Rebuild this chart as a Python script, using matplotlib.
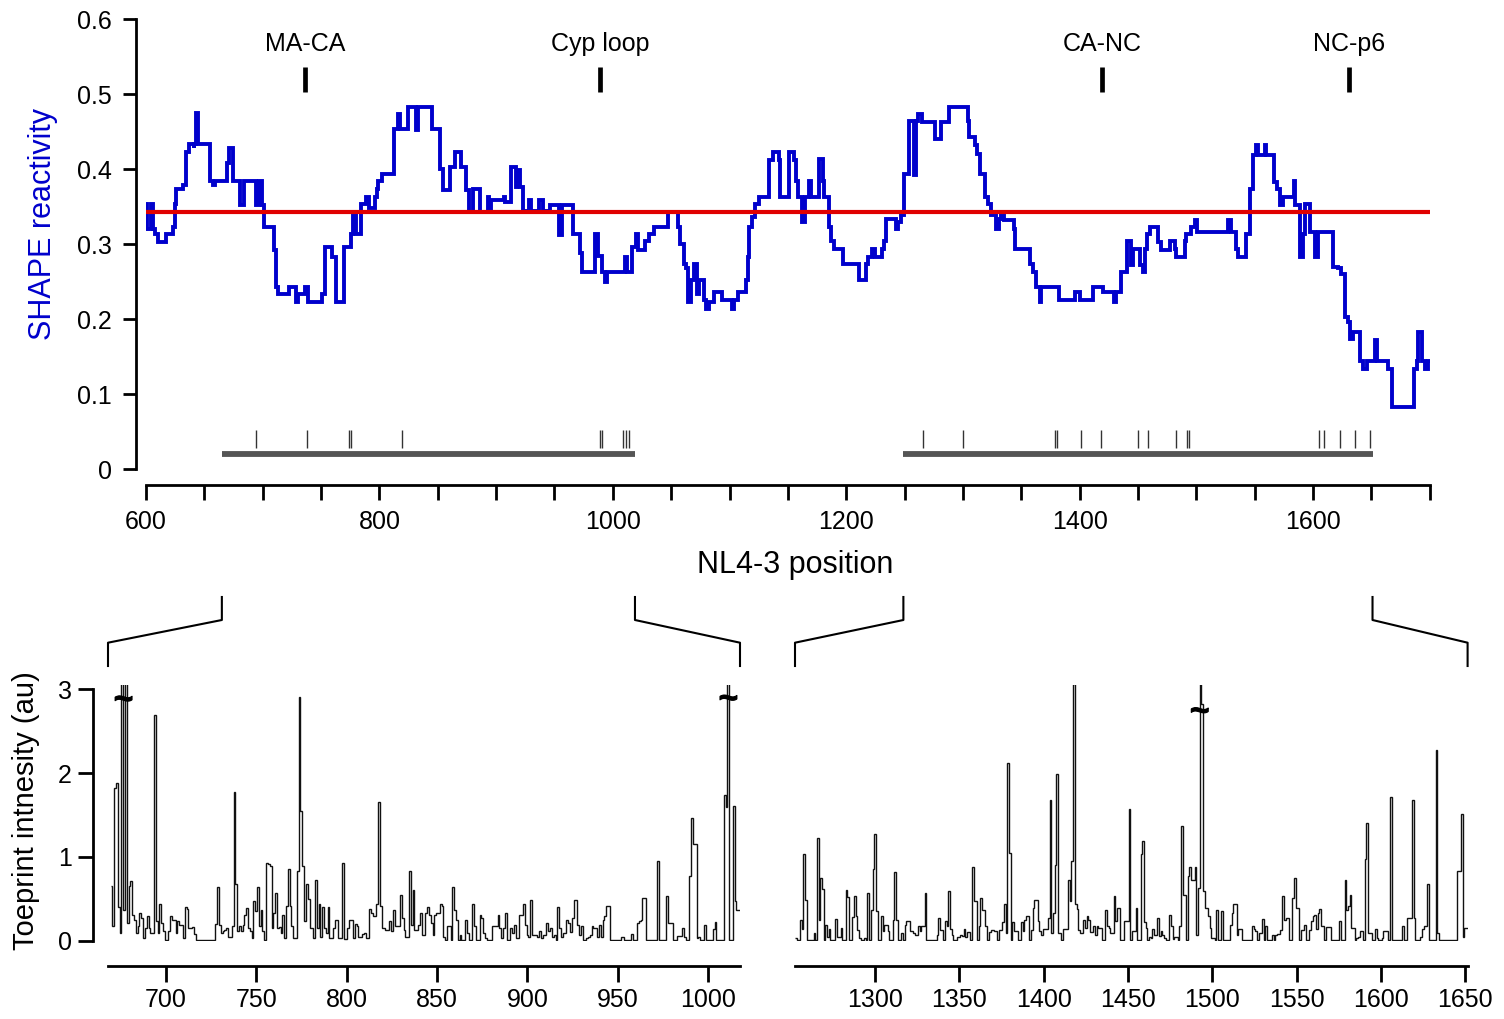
import numpy as np
import matplotlib
matplotlib.use("Agg")
import matplotlib.pyplot as plt
from matplotlib.lines import Line2D
from matplotlib.ticker import FixedLocator, FuncFormatter
import matplotlib.patheffects as pe

plt.rcParams['font.family'] = ['Liberation Sans', 'DejaVu Sans']

# ---------------- data ----------------
# windowed SHAPE reactivity (step start position, value)
shape_pos = [600, 601, 604.7, 606, 607.7, 610, 617, 623, 624.6, 626,
             632, 634.4, 636.8, 640.8, 641.4, 643, 644.5, 655, 657, 659,
             669, 671.5, 674.5, 680.6, 683.7, 694, 697, 699, 701, 710,
             711, 713, 722.6, 728.8, 730.3, 736.4, 738.6, 750.8, 753.3, 759.4,
             762.5, 769.5, 775.6, 777.8, 779.9, 783.9, 788.5, 791, 796, 797.7,
             799.2, 802.3, 812.4, 816, 817.6, 824.7, 831.4, 833, 845.2, 852.3,
             854.4, 860.5, 864.5, 869.7, 874.3, 876.8, 880.4, 886, 892.7, 894.2,
             895.8, 906.5, 908, 912.6, 917.2, 918.1, 920.3, 923.3, 927.9, 929.5,
             937.1, 940.2, 946.3, 954, 956.5, 966.2, 971.8, 973.9, 984.6, 987.7,
             990.8, 993.2, 995.3, 1010.7, 1012.2, 1016.8, 1019.9, 1021.4, 1027.5, 1030.6,
             1035.2, 1047.4, 1056, 1058, 1061, 1062.8, 1064.2, 1067, 1070, 1072.3,
             1074, 1078.4, 1080.2, 1082.4, 1086.4, 1093.7, 1102.3, 1104, 1106.9, 1114.5,
             1116.1, 1116.7, 1119.1, 1122.2, 1125.3, 1133.5, 1136.9, 1142.5, 1143.7, 1150.7,
             1155.5, 1156.8, 1159, 1162, 1164.5, 1168.2, 1169.7, 1176.4, 1180.4, 1181.3,
             1185, 1186.6, 1189.6, 1197.3, 1211.1, 1217.2, 1218.7, 1221.8, 1224.9, 1230.4,
             1232.5, 1234.1, 1242.6, 1244, 1246.9, 1249.4, 1254, 1258, 1260.1, 1261.6,
             1264.7, 1276.3, 1281.5, 1287.7, 1304.5, 1305.1, 1310, 1312.2, 1314.6, 1319,
             1321.4, 1324.4, 1328.4, 1330.6, 1332.7, 1335.2, 1343.8, 1344.4, 1357.5, 1359.7,
             1362.7, 1366.4, 1367.3, 1382.7, 1395.8, 1400.1, 1411.8, 1420.4, 1429.6, 1430.8,
             1435.7, 1440.3, 1444, 1445.5, 1451.6, 1454.7, 1456.2, 1457.8, 1460.2, 1467.1,
             1470, 1477.1, 1481.4, 1482.9, 1490, 1491.4, 1495.7, 1499.2, 1500.9, 1527.2,
             1529.5, 1534.3, 1535.8, 1542.3, 1545.8, 1548.6, 1551.5, 1552.9, 1558.6, 1560.1,
             1566.6, 1569.5, 1571.5, 1574.4, 1583.8, 1585, 1588.7, 1591.5, 1593.5, 1597.3,
             1601.5, 1604.4, 1617.3, 1621.6, 1624.4, 1627.3, 1630.1, 1631.6, 1634.4, 1640.2,
             1643, 1645.9, 1653, 1654.5, 1664.5, 1667.3, 1686.5, 1688.8, 1690.2, 1693.6,
             1695.9, 1698.8, 1699.5]
shape_val = [0.354, 0.321, 0.354, 0.321, 0.314, 0.303, 0.314, 0.323, 0.354, 0.374,
             0.379, 0.423, 0.434, 0.428, 0.434, 0.475, 0.434, 0.385, 0.379, 0.385,
             0.408, 0.429, 0.385, 0.352, 0.385, 0.352, 0.385, 0.352, 0.323, 0.292,
             0.243, 0.234, 0.243, 0.223, 0.234, 0.243, 0.223, 0.234, 0.297, 0.283,
             0.223, 0.297, 0.314, 0.343, 0.314, 0.354, 0.363, 0.348, 0.363, 0.374,
             0.385, 0.394, 0.454, 0.474, 0.454, 0.483, 0.452, 0.483, 0.454, 0.401,
             0.372, 0.403, 0.423, 0.403, 0.372, 0.343, 0.374, 0.343, 0.363, 0.345,
             0.359, 0.363, 0.357, 0.403, 0.376, 0.399, 0.376, 0.345, 0.359, 0.345,
             0.359, 0.345, 0.352, 0.312, 0.352, 0.314, 0.288, 0.263, 0.314, 0.285,
             0.263, 0.250, 0.263, 0.283, 0.263, 0.297, 0.314, 0.292, 0.305, 0.314,
             0.323, 0.343, 0.323, 0.301, 0.274, 0.268, 0.223, 0.252, 0.274, 0.234,
             0.252, 0.226, 0.214, 0.223, 0.237, 0.226, 0.214, 0.226, 0.237, 0.252,
             0.283, 0.323, 0.337, 0.354, 0.363, 0.412, 0.423, 0.412, 0.363, 0.423,
             0.412, 0.385, 0.363, 0.330, 0.363, 0.385, 0.363, 0.414, 0.385, 0.363,
             0.323, 0.305, 0.294, 0.274, 0.252, 0.274, 0.283, 0.294, 0.283, 0.294,
             0.305, 0.334, 0.321, 0.330, 0.339, 0.394, 0.465, 0.392, 0.465, 0.474,
             0.463, 0.441, 0.463, 0.483, 0.465, 0.443, 0.432, 0.421, 0.394, 0.363,
             0.354, 0.339, 0.321, 0.334, 0.343, 0.332, 0.321, 0.294, 0.274, 0.263,
             0.243, 0.223, 0.243, 0.226, 0.237, 0.226, 0.243, 0.237, 0.223, 0.237,
             0.263, 0.305, 0.272, 0.294, 0.272, 0.263, 0.294, 0.314, 0.323, 0.303,
             0.292, 0.305, 0.294, 0.283, 0.305, 0.314, 0.323, 0.332, 0.317, 0.332,
             0.317, 0.294, 0.283, 0.314, 0.374, 0.419, 0.433, 0.419, 0.433, 0.419,
             0.383, 0.374, 0.352, 0.363, 0.385, 0.352, 0.283, 0.314, 0.354, 0.317,
             0.283, 0.317, 0.270, 0.268, 0.261, 0.203, 0.197, 0.174, 0.183, 0.145,
             0.134, 0.145, 0.172, 0.145, 0.134, 0.083, 0.134, 0.145, 0.183, 0.145,
             0.134, 0.145, 0.145]
mean_reactivity = 0.343

junction_pos = [736, 989, 1419, 1631]
junction_labels = ['MA-CA', 'Cyp loop', 'CA-NC', 'NC-p6']

toeprint_sites = [694, 738, 774, 776, 819, 989, 991, 1009, 1011, 1014,
                  1266, 1300, 1379, 1381, 1401, 1418, 1450, 1459, 1483, 1492,
                  1494, 1605, 1609, 1623, 1636, 1649]
probed_ranges = [(665, 1019), (1249, 1651)]

# toeprint intensity, one value per nucleotide
left_start = 670
left_vals = [
    0.65, 0.17, 1.82, 1.88, 0.40, 0.09, 5.0, 0.37, 5.0, 0.21,    # 670
    0.65, 0.71, 0.31, 0.25, 0.09, 0.17, 0.33, 0.27, 0.03, 0.15,  # 680
    0.29, 0.15, 0.09, 0.09, 2.69, 0.23, 0.09, 0.44, 0.21, 0.11,  # 690
    0.01, 0.01, 0.11, 0.29, 0.25, 0.25, 0.09, 0.23, 0.19, 0.19,  # 700
    0.03, 0.40, 0.38, 0.15, 0.15, 0.16, 0.08, 0.01, 0.01, 0.01,  # 710
    0.01, 0.01, 0.01, 0.01, 0.01, 0.01, 0.01, 0.01, 0.20, 0.64,  # 720
    0.19, 0.09, 0.11, 0.13, 0.15, 0.05, 0.05, 0.17, 1.77, 0.68,  # 730
    0.12, 0.18, 0.11, 0.19, 0.31, 0.39, 0.15, 0.11, 0.03, 0.47,  # 740
    0.35, 0.64, 0.17, 0.37, 0.11, 0.01, 0.93, 0.92, 0.89, 0.15,  # 750
    0.33, 0.57, 0.15, 0.16, 0.09, 0.31, 0.03, 0.41, 0.86, 0.41,  # 760
    0.17, 0.03, 0.03, 0.83, 2.91, 1.55, 0.89, 0.23, 0.68, 0.50,  # 770
    0.15, 0.15, 0.03, 0.73, 0.15, 0.44, 0.04, 0.40, 0.15, 0.09,  # 780
    0.40, 0.03, 0.03, 0.15, 0.25, 0.25, 0.03, 0.03, 0.93, 0.02,  # 790
    0.02, 0.15, 0.25, 0.25, 0.03, 0.20, 0.17, 0.05, 0.05, 0.08,  # 800
    0.09, 0.03, 0.03, 0.38, 0.33, 0.30, 0.30, 0.44, 1.66, 0.41,  # 810
    0.15, 0.15, 0.13, 0.13, 0.23, 0.12, 0.37, 0.17, 0.17, 0.17,  # 820
    0.54, 0.27, 0.13, 0.05, 0.05, 0.83, 0.19, 0.60, 0.13, 0.13,  # 830
    0.19, 0.33, 0.07, 0.07, 0.33, 0.40, 0.31, 0.21, 0.07, 0.31,  # 840
    0.33, 0.33, 0.44, 0.42, 0.05, 0.01, 0.17, 0.17, 0.01, 0.64,  # 850
    0.37, 0.25, 0.01, 0.07, 0.01, 0.01, 0.25, 0.09, 0.01, 0.01,  # 860
    0.44, 0.17, 0.01, 0.01, 0.31, 0.27, 0.09, 0.03, 0.01, 0.01,  # 870
    0.01, 0.17, 0.17, 0.17, 0.31, 0.15, 0.03, 0.15, 0.33, 0.01,  # 880
    0.01, 0.15, 0.09, 0.19, 0.03, 0.03, 0.31, 0.31, 0.44, 0.19,  # 890
    0.07, 0.05, 0.49, 0.07, 0.07, 0.07, 0.05, 0.11, 0.03, 0.07,  # 900
    0.07, 0.21, 0.11, 0.15, 0.05, 0.07, 0.01, 0.40, 0.15, 0.05,  # 910
    0.09, 0.09, 0.25, 0.21, 0.10, 0.27, 0.49, 0.49, 0.19, 0.07,  # 920
    0.17, 0.01, 0.01, 0.03, 0.05, 0.07, 0.17, 0.15, 0.15, 0.05,  # 930
    0.19, 0.05, 0.25, 0.29, 0.41, 0.41, 0.01, 0.01, 0.01, 0.01,  # 940
    0.01, 0.01, 0.05, 0.05, 0.01, 0.01, 0.01, 0.01, 0.08, 0.01,  # 950
    0.01, 0.21, 0.23, 0.25, 0.51, 0.51, 0.01, 0.01, 0.01, 0.01,  # 960
    0.01, 0.01, 0.95, 0.01, 0.01, 0.01, 0.01, 0.53, 0.21, 0.21,  # 970
    0.21, 0.01, 0.01, 0.06, 0.06, 0.06, 0.15, 0.05, 0.01, 0.01,  # 980
    0.77, 1.47, 1.15, 1.15, 0.03, 0.05, 0.01, 0.01, 0.19, 0.01,  # 990
    0.01, 0.01, 0.01, 0.14, 0.22, 0.01, 0.01, 0.01, 0.01, 1.74,  # 1000
    1.60, 5.0, 0.01, 0.01, 1.61, 0.47, 0.37, 0.37]               # 1010

right_start = 1253
right_vals = [
    0.03, 0.01, 0.01, 0.25, 0.14, 1.03, 0.49,                    # 1253
    0.01, 0.01, 0.01, 0.01, 0.09, 0.01, 1.23, 0.25, 0.75, 0.62,  # 1260
    0.01, 0.19, 0.05, 0.14, 0.01, 0.01, 0.01, 0.26, 0.05, 0.05,  # 1270
    0.15, 0.01, 0.01, 0.60, 0.52, 0.01, 0.01, 0.28, 0.53, 0.29,  # 1280
    0.13, 0.03, 0.01, 0.01, 0.03, 0.01, 0.57, 0.01, 0.37, 0.86,  # 1290
    1.27, 0.36, 0.01, 0.01, 0.29, 0.11, 0.19, 0.19, 0.11, 0.01,  # 1300
    0.01, 0.25, 0.82, 0.25, 0.01, 0.01, 0.09, 0.01, 0.19, 0.24,  # 1310
    0.24, 0.11, 0.11, 0.09, 0.07, 0.07, 0.17, 0.12, 0.17, 0.17,  # 1320
    0.57, 0.01, 0.01, 0.01, 0.01, 0.01, 0.01, 0.07, 0.27, 0.13,  # 1330
    0.13, 0.01, 0.23, 0.18, 0.59, 0.14, 0.07, 0.01, 0.01, 0.05,  # 1340
    0.05, 0.07, 0.06, 0.14, 0.05, 0.10, 0.10, 0.01, 0.88, 0.47,  # 1350
    0.47, 0.01, 0.17, 0.51, 0.37, 0.37, 0.17, 0.01, 0.10, 0.13,  # 1360
    0.13, 0.11, 0.11, 0.01, 0.13, 0.13, 0.22, 0.44, 0.09, 2.12,  # 1370
    1.05, 0.01, 0.22, 0.11, 0.11, 0.01, 0.01, 0.22, 0.12, 0.25,  # 1380
    0.30, 0.30, 0.01, 0.13, 0.39, 0.48, 0.48, 0.23, 0.11, 0.07,  # 1390
    0.14, 0.14, 0.14, 0.27, 1.68, 0.09, 0.33, 0.90, 1.99, 0.09,  # 1400
    0.09, 0.01, 0.14, 0.14, 0.14, 0.73, 0.47, 0.95, 3.06, 0.44,  # 1410
    0.38, 0.13, 0.09, 0.09, 0.25, 0.15, 0.29, 0.25, 0.10, 0.10,  # 1420
    0.17, 0.07, 0.17, 0.15, 0.15, 0.01, 0.01, 0.37, 0.17, 0.15,  # 1430
    0.09, 0.09, 0.53, 0.24, 0.39, 0.39, 0.01, 0.01, 0.24, 0.24,  # 1440
    0.24, 1.57, 0.01, 0.11, 0.11, 0.39, 0.01, 0.01, 1.03, 1.19,  # 1450
    0.22, 0.15, 0.01, 0.05, 0.03, 0.14, 0.07, 0.07, 0.27, 0.06,  # 1460
    0.11, 0.07, 0.03, 0.01, 0.01, 0.31, 0.17, 0.02, 0.05, 0.05,  # 1470
    0.01, 0.17, 1.37, 0.55, 0.55, 0.01, 0.77, 0.88, 0.73, 0.73,  # 1480
    0.88, 0.07, 0.63, 5.0, 2.82, 0.59, 0.39, 0.39, 0.30, 0.15,   # 1490
    0.03, 0.03, 0.01, 0.37, 0.01, 0.01, 0.35, 0.01, 0.01, 0.01,  # 1500
    0.01, 0.19, 0.33, 0.44, 0.44, 0.07, 0.14, 0.14, 0.01, 0.01,  # 1510
    0.01, 0.01, 0.01, 0.01, 0.17, 0.14, 0.11, 0.01, 0.09, 0.09,  # 1520
    0.26, 0.01, 0.17, 0.01, 0.01, 0.01, 0.07, 0.01, 0.07, 0.08,  # 1530
    0.08, 0.13, 0.53, 0.25, 0.27, 0.27, 0.01, 0.01, 0.51, 0.75,  # 1540
    0.39, 0.39, 0.01, 0.13, 0.13, 0.19, 0.01, 0.01, 0.13, 0.23,  # 1550
    0.29, 0.31, 0.14, 0.33, 0.38, 0.17, 0.17, 0.01, 0.16, 0.16,  # 1560
    0.16, 0.01, 0.01, 0.01, 0.01, 0.01, 0.23, 0.01, 0.01, 0.73,  # 1570
    0.37, 0.41, 0.55, 0.15, 0.15, 0.01, 0.03, 0.05, 0.11, 0.11,  # 1580
    0.01, 0.97, 1.41, 0.09, 0.09, 0.01, 0.01, 0.14, 0.03, 0.01,  # 1590
    0.01, 0.03, 0.11, 0.11, 0.11, 0.01, 1.72, 0.01, 0.01, 0.01,  # 1600
    0.01, 0.01, 0.01, 0.17, 0.01, 0.01, 0.27, 0.27, 0.27, 1.68,  # 1610
    0.27, 0.01, 0.01, 0.01, 0.05, 0.14, 0.17, 0.17, 0.68, 0.01,  # 1620
    0.01, 0.01, 0.01, 2.27, 0.09, 0.01, 0.01, 0.01, 0.01, 0.01,  # 1630
    0.01, 0.01, 0.01, 0.01, 0.01, 0.01, 0.83, 0.83, 1.51, 0.05,  # 1640
    0.15, 0.15]                                                  # 1650

# axis-break marks on off-scale peaks (position, height)
break_left = [(676.7, 2.86), (1011.1, 2.87)]
break_right = [(1492.6, 2.72)]

top_ticks = list(range(600, 1701, 50))
left_ticks = list(range(700, 1001, 50))
right_ticks = list(range(1300, 1651, 50))
toe_yticks = [0, 1, 2, 3]
shape_yticks = [0, 0.1, 0.2, 0.3, 0.4, 0.5, 0.6]

# ---------------- figure ----------------
W, H = 1504, 1019
fig = plt.figure(figsize=(W / 100, H / 100), dpi=100)


def rect(x0, y_top, x1, y_bot):
    return [x0 / W, 1 - y_bot / H, (x1 - x0) / W, (y_bot - y_top) / H]


LW = 2.0
TICK_FS = 18
LABEL_FS = 22

# ---- top panel ----
ax = fig.add_axes(rect(146, 19.3, 1429.7, 469.3))
ax.set_xlim(600, 1700)
ax.set_ylim(0, 0.6)
ax.plot(shape_pos, shape_val, drawstyle='steps-post', color='#0000CC', lw=2.8,
        solid_joinstyle='miter', zorder=3)
ax.axhline(mean_reactivity, color='#E00000', lw=3.0, zorder=4)
ax.vlines(junction_pos, 0.503, 0.536, color='black', lw=3.4)
for p, lab in zip(junction_pos, junction_labels):
    ax.text(p, 0.567, lab, ha='center', va='center', fontsize=TICK_FS)
ax.vlines(toeprint_sites, 0.029, 0.052, color='#333333', lw=1.0)
for a, b in probed_ranges:
    ax.plot([a, b], [0.02, 0.02], color='#555555', lw=4.2, solid_capstyle='butt')

for s in ['top', 'right']:
    ax.spines[s].set_visible(False)
ax.spines['left'].set_position(('outward', 7.2))
ax.spines['bottom'].set_position(('outward', 11.5))
ax.spines['left'].set_linewidth(LW)
ax.spines['bottom'].set_linewidth(LW)
ax.xaxis.set_major_locator(FixedLocator(top_ticks))
ax.xaxis.set_major_formatter(FuncFormatter(lambda v, p: f"{int(round(v))}" if int(round(v)) % 200 == 0 else ""))
ax.set_yticks(shape_yticks)
ax.set_yticklabels(['0', '0.1', '0.2', '0.3', '0.4', '0.5', '0.6'])
ax.tick_params(axis='x', direction='out', length=11, width=LW, labelsize=TICK_FS, pad=7)
ax.tick_params(axis='y', direction='out', length=9.5, width=LW, labelsize=TICK_FS, pad=8)

fig.text(43.5 / W, 1 - 224 / H, 'SHAPE reactivity', rotation=90, color='#0000CC',
         fontsize=LABEL_FS, ha='center', va='center')
fig.text(795 / W, 1 - 565 / H, 'NL4-3 position', fontsize=LABEL_FS, ha='center', va='center')

# ---- bottom panels ----
y0_px, ppu = 940.7, 83.8
ytop = 3.05


def toe_axes(x0, x1, xlim, start, vals, ticks, show_y, breaks):
    a = fig.add_axes(rect(x0, y0_px - ytop * ppu, x1, y0_px))
    a.set_xlim(*xlim)
    a.set_ylim(0, ytop)
    edges = np.arange(len(vals) + 1) + start - 0.5
    a.stairs(vals, edges, baseline=None, color='#111111', lw=1.0)
    for s in ['top', 'right']:
        a.spines[s].set_visible(False)
    a.spines['bottom'].set_position(('outward', 18))
    a.spines['bottom'].set_linewidth(LW)
    a.set_xticks(ticks)
    a.tick_params(axis='x', direction='out', length=11.5, width=LW, labelsize=TICK_FS, pad=4.5)
    if show_y:
        a.spines['left'].set_position(('outward', 11))
        a.spines['left'].set_linewidth(LW)
        a.spines['left'].set_bounds(0, 3)
        a.set_yticks(toe_yticks)
        a.tick_params(axis='y', direction='out', length=11, width=LW, labelsize=TICK_FS, pad=4)
    else:
        a.spines['left'].set_visible(False)
        a.set_yticks([])
    for (bx, by) in breaks:
        a.text(bx, by, '~', fontsize=24, fontweight='bold', ha='center', va='center',
               clip_on=False, zorder=10,
               path_effects=[pe.withStroke(linewidth=0.8, foreground='black')])
    return a


axl = toe_axes(108, 740, (668.1, 1017.5), left_start, left_vals, left_ticks, True, break_left)
axr = toe_axes(795, 1467.6, (1252.5, 1651.5), right_start, right_vals, right_ticks, False, break_right)

fig.text(26 / W, 1 - 811 / H, 'Toeprint intnesity (au)', rotation=90,
         fontsize=21, ha='center', va='center')

# ---- zoom brackets ----
fig.canvas.draw()
inv = fig.transFigure.inverted()


def fx(axis, xval):
    return inv.transform(axis.transData.transform((xval, 0)))[0]


yb = [1 - 597 / H, 1 - 620 / H, 1 - 642.7 / H, 1 - 666 / H]
pairs = [(probed_ranges[0][0], axl, axl.get_xlim()[0]),
         (probed_ranges[0][1], axl, axl.get_xlim()[1]),
         (probed_ranges[1][0], axr, axr.get_xlim()[0]),
         (probed_ranges[1][1], axr, axr.get_xlim()[1])]
for top_x, bax, bx in pairs:
    xt = fx(ax, top_x)
    xb = fx(bax, bx)
    fig.add_artist(Line2D([xt, xt, xb, xb], yb, color='black', lw=1.5,
                          transform=fig.transFigure))

fig.savefig('out.png', dpi=100)
